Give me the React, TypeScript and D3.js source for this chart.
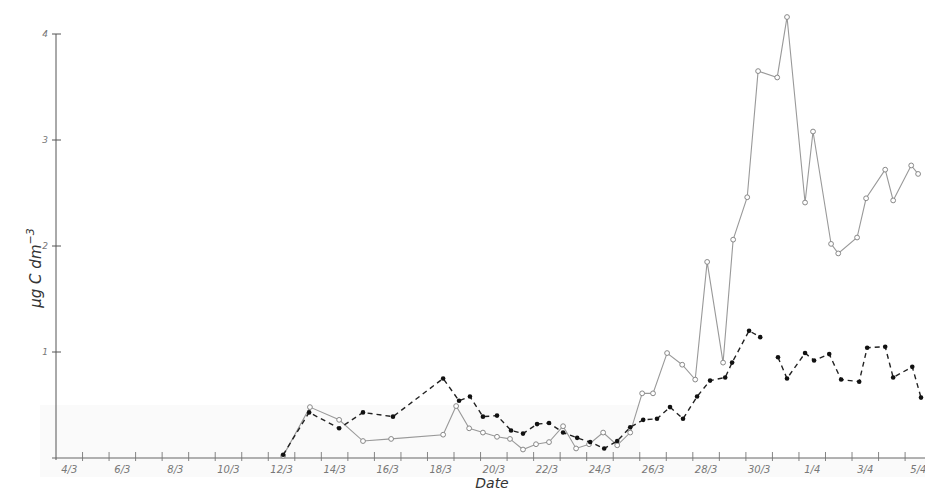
import React from "react";
import * as d3 from "d3";

// Day offsets from 4 March 00:00 and concentrations (µg C dm^-3)
const openDays = [8.56, 9.57, 10.67, 11.57, 12.63, 14.59, 15.08, 15.57, 16.09, 16.62, 17.11, 17.6, 18.09, 18.58, 19.11, 19.6, 20.09, 20.62, 21.15, 21.64, 22.09, 22.5, 23.03, 23.6, 24.09, 24.54, 25.14, 25.52, 26.05, 26.46, 27.18, 27.55, 28.23, 28.53, 29.21, 29.48, 30.19, 30.53, 31.25, 31.55, 32.23, 32.49];
const openValues = [0.02, 0.48, 0.36, 0.16, 0.18, 0.22, 0.49, 0.28, 0.24, 0.2, 0.18, 0.08, 0.13, 0.15, 0.3, 0.09, 0.13, 0.24, 0.12, 0.24, 0.61, 0.61, 0.99, 0.88, 0.74, 1.85, 0.9, 2.06, 2.46, 3.65, 3.59, 4.16, 2.41, 3.08, 2.02, 1.93, 2.08, 2.45, 2.72, 2.43, 2.76, 2.68];

const filledDays = [8.56, 9.54, 10.67, 11.57, 12.7, 14.59, 15.19, 15.6, 16.09, 16.62, 17.15, 17.6, 18.13, 18.58, 19.11, 19.64, 20.13, 20.66, 21.15, 21.64, 22.13, 22.65, 23.14, 23.63, 24.16, 24.65, 25.22, 25.48, 26.12, 26.54, 26.9, 27.21, 27.55, 28.23, 28.57, 29.14, 29.59, 30.27, 30.57, 31.25, 31.55, 32.27, 32.6];
const filledValues: (number | null)[] = [0.03, 0.43, 0.28, 0.43, 0.39, 0.75, 0.54, 0.58, 0.39, 0.4, 0.26, 0.23, 0.32, 0.33, 0.24, 0.19, 0.15, 0.09, 0.16, 0.29, 0.36, 0.37, 0.48, 0.37, 0.58, 0.73, 0.76, 0.9, 1.2, 1.14, null, 0.95, 0.75, 0.99, 0.92, 0.98, 0.74, 0.72, 1.04, 1.05, 0.76, 0.86, 0.57];

const yTicks = [1, 2, 3, 4];
const xLabelDays = [0, 2, 4, 6, 8, 10, 12, 14, 16, 18, 20, 22, 24, 26, 28, 30, 32];
const startDate = new Date(1980, 2, 4);

export default function App() {
  const W = 925, H = 493;
  const x = d3.scaleLinear().domain([0, 32.75]).range([56, 925]);
  const y = d3.scaleLinear().domain([0, 4]).range([458, 34]);
  const fmt = d3.timeFormat("%-d/%-m");

  const openPts = openDays.map((d, i) => [d, openValues[i]] as [number, number]);
  const filledPts = filledDays.map((d, i) => [d, filledValues[i]] as [number, number | null]);

  const lineOpen = d3.line<[number, number]>().x(d => x(d[0])).y(d => y(d[1]));
  const lineFilled = d3
    .line<[number, number | null]>()
    .defined(d => d[1] !== null)
    .x(d => x(d[0]))
    .y(d => y(d[1] as number));

  const dayTicks = d3.range(1, 33);
  const tickFont = "'DejaVu Sans', sans-serif";

  return (
    <svg width={W} height={H} style={{ position: "absolute", left: 0, top: 0, background: "#fff" }}>
      <rect x={0} y={0} width={W} height={H} fill="#fff" />
      {/* faint scan bands */}
      <rect x={40} y={405} width={600} height={72} fill="#fafafa" />
      <rect x={640} y={458} width={285} height={19} fill="#fafafa" />

      {/* y axis */}
      <line x1={56} x2={56} y1={34} y2={460} stroke="#555" strokeWidth={1} />
      {yTicks.map(t => (
        <g key={t}>
          <line x1={52} x2={61} y1={y(t)} y2={y(t)} stroke="#555" strokeWidth={1} />
          <text x={48} y={y(t) + 3} fontSize={9} fontStyle="italic" fill="#777" textAnchor="end" fontFamily={tickFont}>
            {t}
          </text>
        </g>
      ))}

      {/* x axis */}
      <line x1={52} x2={925} y1={458} y2={458} stroke="#666" strokeWidth={1} />
      {dayTicks.map(t => (
        <line key={t} x1={x(t)} x2={x(t)} y1={452} y2={461} stroke="#777" strokeWidth={0.9} />
      ))}
      {xLabelDays.map(d => (
        <text
          key={d}
          x={x(d + 0.5)}
          y={473}
          fontSize={10}
          fontStyle="italic"
          fill="#777"
          textAnchor="middle"
          fontFamily={tickFont}
        >
          {fmt(d3.timeDay.offset(startDate, d))}
        </text>
      ))}

      {/* axis titles */}
      <text x={492} y={488} fontSize={14} fontStyle="italic" fill="#333" textAnchor="middle" fontFamily={tickFont}>
        Date
      </text>
      <text
        transform="translate(41,268) rotate(-90)"
        fontSize={15}
        fontStyle="italic"
        fill="#333"
        textAnchor="middle"
        fontFamily={tickFont}
      >
        μg C dm
        <tspan dy={-7} fontSize={11}>−3</tspan>
      </text>

      {/* open circle series */}
      <path d={lineOpen(openPts) || ""} fill="none" stroke="#999" strokeWidth={1.1} />
      {openPts.map((p, i) => (
        <circle key={i} cx={x(p[0])} cy={y(p[1])} r={2.4} fill="#fff" stroke="#888" strokeWidth={1} />
      ))}

      {/* filled dot series */}
      <path
        d={lineFilled(filledPts) || ""}
        fill="none"
        stroke="#222"
        strokeWidth={1.4}
        strokeDasharray="5,4"
      />
      {filledPts
        .filter(p => p[1] !== null)
        .map((p, i) => (
          <circle key={i} cx={x(p[0])} cy={y(p[1] as number)} r={2.3} fill="#111" />
        ))}
    </svg>
  );
}
